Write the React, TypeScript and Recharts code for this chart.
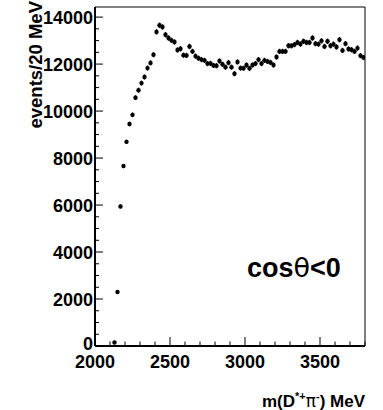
import React from "react";
import {
  ScatterChart,
  Scatter,
  XAxis,
  YAxis,
  ErrorBar,
  ReferenceArea,
} from "recharts";

// bin centres (20 MeV bins) and event counts for cos(theta) < 0
const massBins = [
  2130, 2150, 2170, 2190, 2210, 2230, 2250, 2270, 2290, 2310, 2330, 2350,
  2370, 2390, 2410, 2430, 2450, 2470, 2490, 2510, 2530, 2550, 2570, 2590,
  2610, 2630, 2650, 2670, 2690, 2710, 2730, 2750, 2770, 2790, 2810, 2830,
  2850, 2870, 2890, 2910, 2930, 2950, 2970, 2990, 3010, 3030, 3050, 3070,
  3090, 3110, 3130, 3150, 3170, 3190, 3210, 3230, 3250, 3270, 3290, 3310,
  3330, 3350, 3370, 3390, 3410, 3430, 3450, 3470, 3490, 3510, 3530, 3550,
  3570, 3590, 3610, 3630, 3650, 3670, 3690, 3710, 3730, 3750, 3770, 3790,
];

const events = [
  150, 2300, 5940, 7660, 8690, 9450, 9840, 10570, 10890, 11190, 11450, 11830,
  12050, 12400, 13370, 13650, 13580, 13250, 13110, 13010, 12940, 12600, 12650, 12380,
  12370, 12750, 12540, 12340, 12250, 12190, 12160, 12020, 12030, 11940, 11930, 12130,
  11990, 11870, 12060, 11870, 11590, 12090, 11830, 11820, 11960, 11820, 11960, 12020,
  12190, 12020, 12160, 12110, 12070, 11960, 12300, 12540, 12540, 12540, 12780, 12780,
  12830, 12920, 12850, 12970, 12920, 12920, 13110, 12870, 12850, 12990, 12750, 12970,
  12780, 12850, 12730, 13040, 12580, 12870, 12640, 12610, 12540, 12680, 12360, 12280,
];

const xTicks = [
  2000, 2100, 2200, 2300, 2400, 2500, 2600, 2700, 2800, 2900, 3000, 3100,
  3200, 3300, 3400, 3500, 3600, 3700, 3800,
];
const yTicks = [
  0, 500, 1000, 1500, 2000, 2500, 3000, 3500, 4000, 4500, 5000, 5500, 6000,
  6500, 7000, 7500, 8000, 8500, 9000, 9500, 10000, 10500, 11000, 11500, 12000,
  12500, 13000, 13500, 14000,
];

const X_MIN = 2000;
const X_MAX = 3800;
const Y_MAX = 14430;

const data = massBins.map((m, i) => ({
  m,
  n: events[i],
  err: Math.sqrt(events[i]),
}));

const FONT = "'Liberation Sans', Arial, Helvetica, sans-serif";

const XTick = (props: any) => {
  const { x, y, payload } = props;
  const major = payload.value % 500 === 0;
  return (
    <g>
      <line x1={x} y1={y} x2={x} y2={y - (major ? 9 : 4.5)} stroke="#000" strokeWidth={1} />
      {major && payload.value < 3800 && (
        <text
          x={x}
          y={y + 22}
          textAnchor="middle"
          fontFamily={FONT}
          fontWeight="bold"
          fontSize={18}
          fill="#000"
        >
          {payload.value}
        </text>
      )}
    </g>
  );
};

const YTick = (props: any) => {
  const { x, y, payload } = props;
  const major = payload.value % 2000 === 0;
  return (
    <g>
      <line x1={x} y1={y} x2={x + (major ? 8 : 4)} y2={y} stroke="#000" strokeWidth={1} />
      {major && (
        <text
          x={x - 2}
          y={y + (payload.value === 0 ? 4 : 6.5)}
          textAnchor="end"
          fontFamily={FONT}
          fontWeight="bold"
          fontSize={18}
          fill="#000"
        >
          {payload.value}
        </text>
      )}
    </g>
  );
};

const Dot = (props: any) => {
  const { cx, cy } = props;
  return <circle cx={cx} cy={cy} r={2.2} fill="#000" />;
};

export default function App() {
  return (
    <div
      style={{
        position: "absolute",
        left: 0,
        top: 0,
        width: 383,
        height: 410,
        background: "#fff",
      }}
    >
      <ScatterChart
        width={383}
        height={410}
        margin={{ top: 7, right: 18, bottom: 0, left: 0 }}
      >
        <ReferenceArea
          x1={X_MIN}
          x2={X_MAX}
          y1={0}
          y2={Y_MAX}
          fill="none"
          stroke="#000"
          strokeWidth={1}
          ifOverflow="visible"
        />
        <XAxis
          type="number"
          dataKey="m"
          domain={[X_MIN, X_MAX]}
          ticks={xTicks}
          interval={0}
          allowDataOverflow
          height={64}
          tickSize={0}
          tickMargin={0}
          tickLine={false}
          axisLine={{ stroke: "#000", strokeWidth: 2 }}
          tick={<XTick />}
          label={{
            content: (p: any) => {
              const vb = p.viewBox;
              return (
                <text
                  x={vb.x + vb.width}
                  y={vb.y + 61}
                  textAnchor="end"
                  fontFamily={FONT}
                  fontWeight="bold"
                  fontSize={17}
                  fill="#000"
                >
                  m(D
                  <tspan dy={-7} fontSize={11}>*+</tspan>
                  <tspan dy={7} fontFamily="'DejaVu Sans', sans-serif" fontWeight="normal">π</tspan>
                  <tspan dy={-7} fontSize={11}>-</tspan>
                  <tspan dy={7}>) MeV</tspan>
                </text>
              );
            },
          }}
        />
        <YAxis
          type="number"
          dataKey="n"
          domain={[0, Y_MAX]}
          ticks={yTicks}
          interval={0}
          allowDataOverflow
          width={95}
          tickSize={0}
          tickMargin={0}
          tickLine={false}
          axisLine={{ stroke: "#000", strokeWidth: 2 }}
          tick={<YTick />}
          label={{
            content: () => (
              <text
                x={42}
                y={1}
                transform="rotate(-90 42 1)"
                textAnchor="end"
                fontFamily={FONT}
                fontWeight="bold"
                fontSize={18.5}
                fill="#000"
              >
                events/20 MeV
              </text>
            ),
          }}
        />
        <ReferenceArea
          x1={3050}
          x2={3700}
          y1={2500}
          y2={3800}
          fill="none"
          stroke="none"
          ifOverflow="visible"
          label={{
            content: () => (
              <text
                x={247}
                y={277}
                fontFamily={FONT}
                fontWeight="bold"
                fontSize={27}
                fill="#000"
              >
                cos
                <tspan fontFamily="'DejaVu Sans', sans-serif" fontWeight="normal">θ</tspan>
                {"<0"}
              </text>
            ),
          }}
        />
        <Scatter
          data={data}
          dataKey="n"
          fill="#000"
          shape={<Dot />}
          isAnimationActive={false}
        >
          <ErrorBar
            dataKey="err"
            direction="y"
            width={0}
            stroke="#000"
            strokeWidth={1.5}
            isAnimationActive={false}
          />
        </Scatter>
      </ScatterChart>
    </div>
  );
}
